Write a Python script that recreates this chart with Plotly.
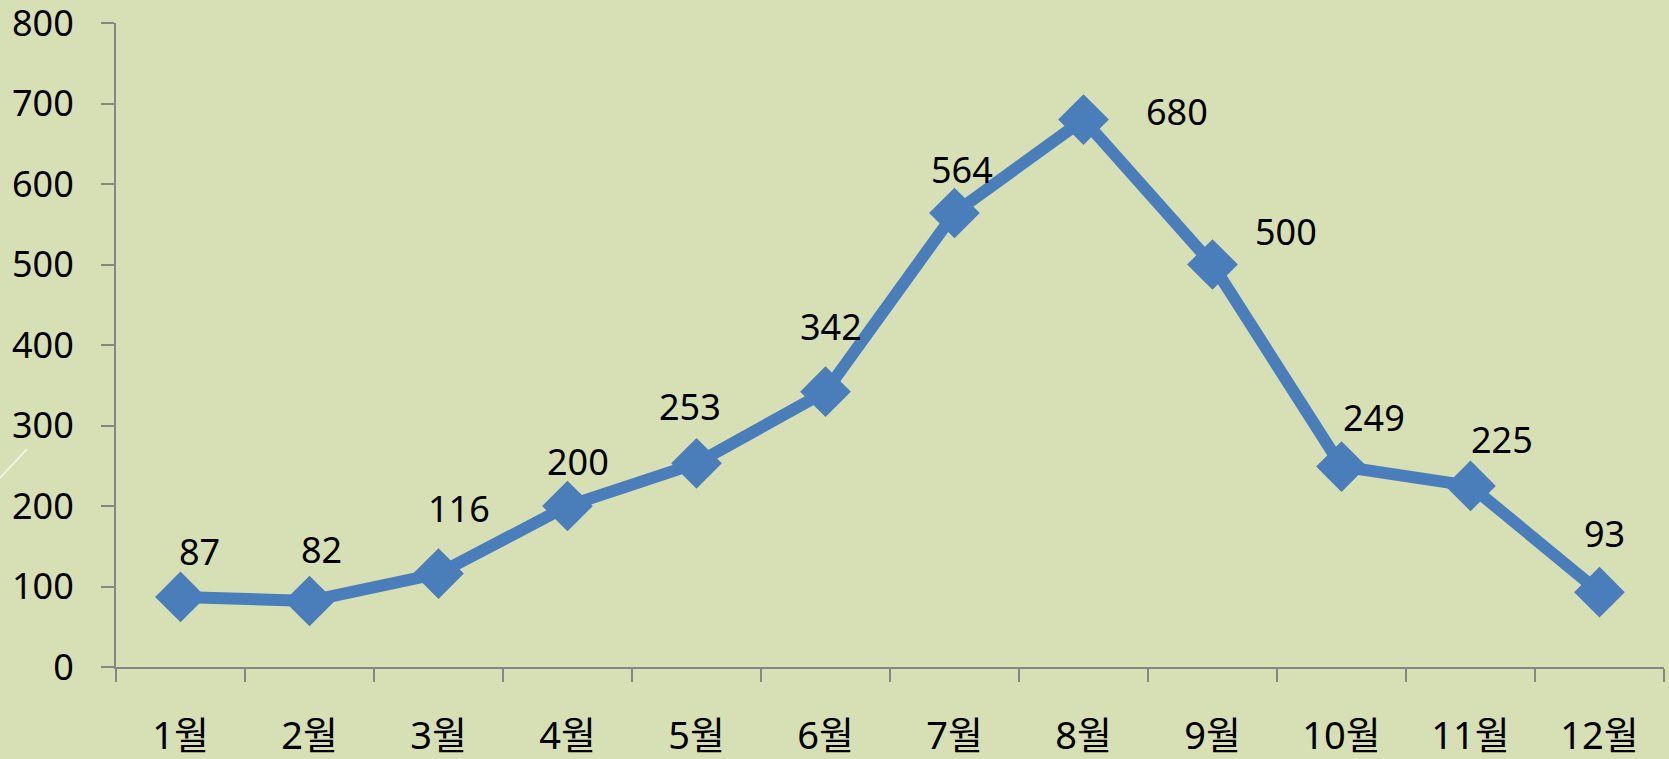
import plotly.graph_objects as go

months = ["1월", "2월", "3월", "4월", "5월", "6월", "7월", "8월", "9월", "10월", "11월", "12월"]
values = [87, 82, 116, 200, 253, 342, 564, 680, 500, 249, 225, 93]
y_ticks = [0, 100, 200, 300, 400, 500, 600, 700, 800]

# label offsets (pixels) relative to each point
label_dx = [19, 12, 20, 10, -7, 5, 7, 93, 73, 32, 31, 5]
label_dy = [45, 51, 65, 45, 57, 65, 43, 8, 33, 49, 46, 59]

BG = "#D7DFB4"
BLUE = "#4A7EBB"
AXIS = "#868686"
FONT = "Noto Sans, Noto Sans CJK KR, sans-serif"

fig = go.Figure()
fig.add_trace(go.Scatter(
    x=months, y=values, mode="lines+markers",
    line=dict(color=BLUE, width=12),
    marker=dict(symbol="diamond", size=39, color=BLUE, line=dict(width=0)),
    hoverinfo="x+y",
))

for m, v, dx, dy in zip(months, values, label_dx, label_dy):
    fig.add_annotation(x=m, y=v, text=str(v), showarrow=False,
                       xshift=dx, yshift=dy,
                       font=dict(family=FONT, size=36, color="black"))

# faint decorative stroke at the left edge
fig.add_shape(type="line", xref="paper", yref="paper",
              x0=-116/1548, y0=(759-92-478)/644, x1=-89/1548, y1=(759-92-449)/644,
              line=dict(color="#EEF2DC", width=2))

fig.update_layout(
    width=1669, height=759,
    paper_bgcolor=BG, plot_bgcolor=BG,
    margin=dict(l=116, r=5, t=23, b=92, autoexpand=False),
    showlegend=False,
    font=dict(family=FONT, size=36, color="black"),
    xaxis=dict(
        type="category", range=[-0.5, 11.5],
        showgrid=False, zeroline=False,
        showline=True, linecolor=AXIS, linewidth=2,
        ticks="outside", tickson="boundaries", ticklen=13, tickwidth=2, tickcolor=AXIS,
        tickfont=dict(family=FONT, size=38, color="black"),
        ticklabelstandoff=34,
        ticklabeloverflow="allow",
        automargin=False,
    ),
    yaxis=dict(
        range=[0, 800], tickvals=y_ticks,
        showgrid=False, zeroline=False,
        showline=True, linecolor=AXIS, linewidth=2,
        ticks="outside", ticklen=13, tickwidth=2, tickcolor=AXIS,
        tickfont=dict(family=FONT, size=36, color="black"),
        ticklabelstandoff=20,
        ticklabeloverflow="allow",
        automargin=False,
    ),
)

fig.write_html("out.html",
               config={"displayModeBar": False},
               post_script="document.body.style.margin='0';document.body.style.overflow='hidden';document.body.style.background='" + BG + "';")
